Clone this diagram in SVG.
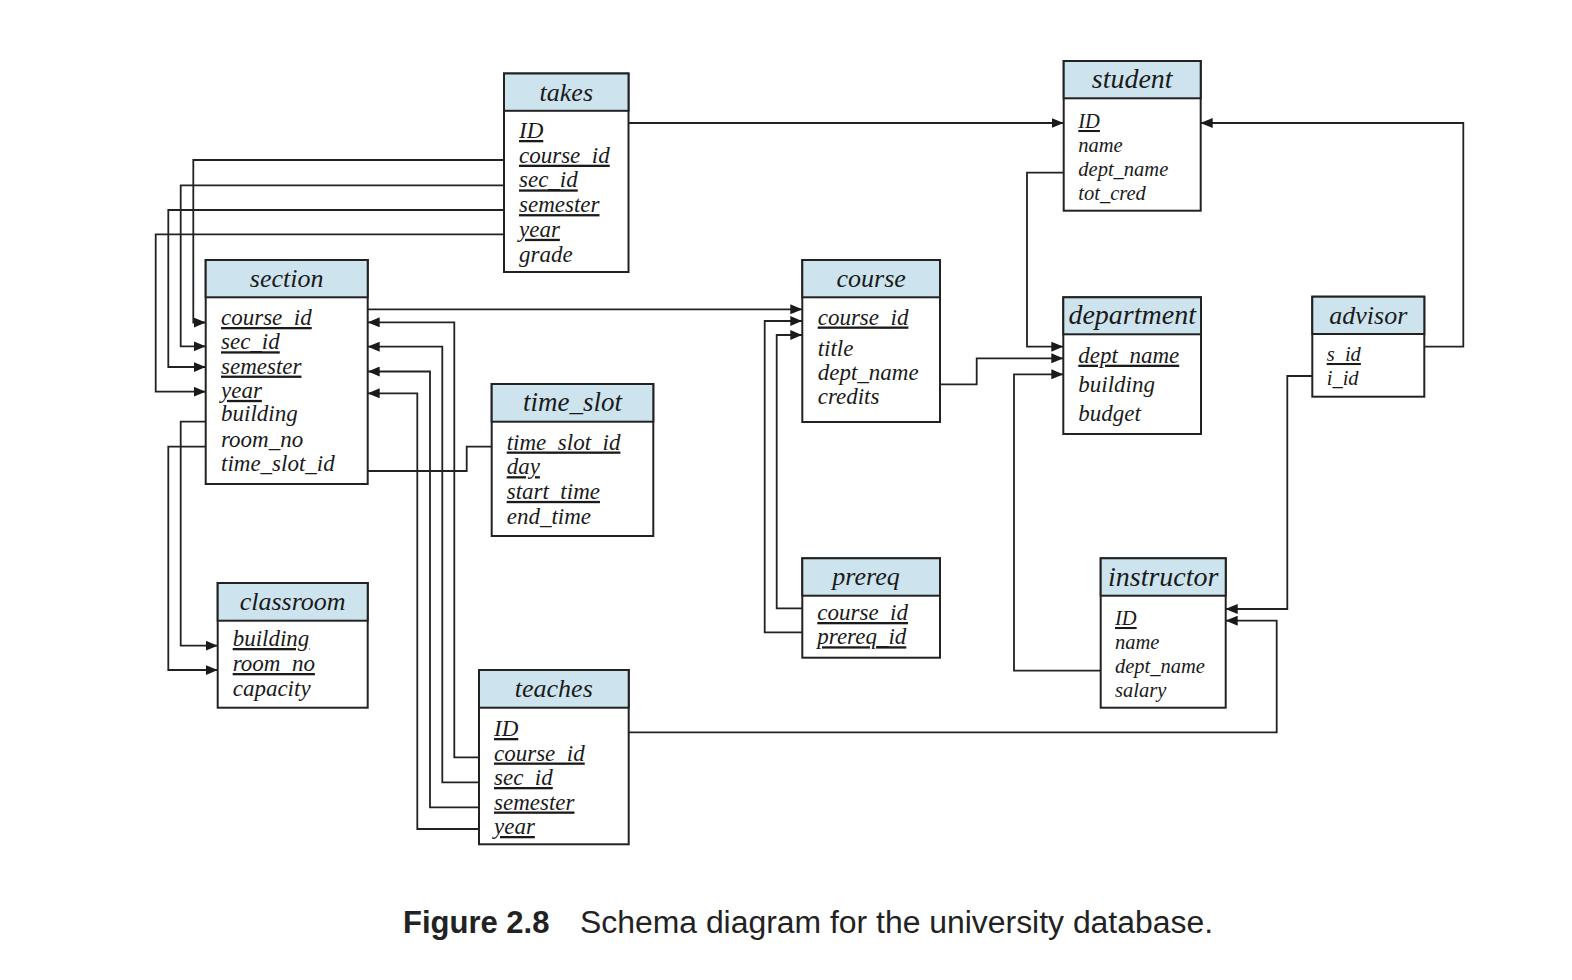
<svg xmlns="http://www.w3.org/2000/svg" width="1572" height="980" viewBox="0 0 1572 980">
<defs>
<style>
.box{fill:#ffffff;stroke:#222;stroke-width:2}
.hd{fill:#cde4ef;stroke:#222;stroke-width:2}
.ht{font-family:"Liberation Serif",serif;font-style:italic;font-size:26px;text-anchor:middle;fill:#1a1a1a}
.f{font-family:"Liberation Serif",serif;font-style:italic;font-size:23px;fill:#1a1a1a}
.s{font-size:20.5px}
.u{text-decoration:underline}
.c{fill:none;stroke:#222;stroke-width:1.8}
.a{marker-end:url(#arr)}
.cap{font-family:"Liberation Sans",Arial,sans-serif;font-size:31px;fill:#222}
</style>
<marker id="arr" viewBox="0 0 12 10" refX="12" refY="5" markerWidth="12" markerHeight="10" markerUnits="userSpaceOnUse" orient="auto">
<path d="M0,0 L12,5 L0,10 z" fill="#1a1a1a"/>
</marker>
</defs>
<rect width="1572" height="980" fill="#ffffff"/>

<g id="connectors">
<path class="c a" d="M504,160 H193.3 V322.5 H205.7"/>
<path class="c a" d="M504,185.3 H180.7 V346.3 H205.7"/>
<path class="c a" d="M504,210 H168.3 V367 H205.7"/>
<path class="c a" d="M504,234.3 H155.7 V391.7 H205.7"/>
<path class="c a" d="M479,757.3 H454.3 V322.3 H367.7"/>
<path class="c a" d="M479,782.3 H442.3 V346.7 H367.7"/>
<path class="c a" d="M479,807.3 H430 V371.5 H367.7"/>
<path class="c a" d="M479,829 H417.3 V393.3 H367.7"/>
<path class="c a" d="M205.7,421.7 H180.7 V645.7 H217.7"/>
<path class="c a" d="M205.7,446.7 H168.3 V670 H217.7"/>
<path class="c" d="M367.7,471 H466.7 V446.7 H491.7"/>
<path class="c a" d="M367.7,309.3 H802.3"/>
<path class="c a" d="M802.3,608.3 H776.7 V335 H802.3"/>
<path class="c a" d="M802.3,632.3 H764.7 V321 H802.3"/>
<path class="c a" d="M628.7,123 H1063.7"/>
<path class="c a" d="M1424.3,346.7 H1463.3 V123 H1200.7"/>
<path class="c a" d="M1063.7,172.7 H1027 V346.7 H1063.3"/>
<path class="c a" d="M940,384.3 H976.7 V358.3 H1063.3"/>
<path class="c a" d="M1100.7,670.7 H1014 V374.3 H1063.3"/>
<path class="c a" d="M1312.3,376 H1287.3 V609 H1225.7"/>
<path class="c a" d="M628.7,732.3 H1276.7 V620.7 H1225.7"/>
</g>

<g id="takes">
<rect class="box" x="504" y="73.5" width="124.5" height="198.5"/>
<rect class="hd" x="504" y="73.5" width="124.5" height="37.3"/>
<text class="ht" x="566.3" y="100.7">takes</text>
<text class="f u" x="519" y="138">ID</text>
<text class="f u" x="519" y="162.7">course_id</text>
<text class="f u" x="519" y="187.4">sec_id</text>
<text class="f u" x="519" y="212.1">semester</text>
<text class="f u" x="519" y="236.8">year</text>
<text class="f" x="519" y="261.5">grade</text>
</g>

<g id="section">
<rect class="box" x="205.7" y="260" width="162" height="224"/>
<rect class="hd" x="205.7" y="260" width="162" height="37.3"/>
<text class="ht" x="286.7" y="286.7">section</text>
<text class="f u" x="221" y="325">course_id</text>
<text class="f u" x="221" y="349.3">sec_id</text>
<text class="f u" x="221" y="373.6">semester</text>
<text class="f u" x="221" y="397.9">year</text>
<text class="f" x="221" y="421">building</text>
<text class="f" x="221" y="446.5">room_no</text>
<text class="f" x="221" y="470.8">time_slot_id</text>
</g>

<g id="student">
<rect class="box" x="1063.7" y="61" width="137" height="149.7"/>
<rect class="hd" x="1063.7" y="61" width="137" height="37.3"/>
<text class="ht" x="1132.2" y="88" style="font-size:28px">student</text>
<text class="f s u" x="1078.3" y="128">ID</text>
<text class="f s" x="1078.3" y="152">name</text>
<text class="f s" x="1078.3" y="176">dept_name</text>
<text class="f s" x="1078.3" y="200">tot_cred</text>
</g>

<g id="course">
<rect class="box" x="802.3" y="260" width="137.7" height="162"/>
<rect class="hd" x="802.3" y="260" width="137.7" height="37.3"/>
<text class="ht" x="871.2" y="286.7">course</text>
<text class="f u" x="817.7" y="324.5">course_id</text>
<text class="f" x="817.7" y="356">title</text>
<text class="f" x="817.7" y="380.3">dept_name</text>
<text class="f" x="817.7" y="404.3">credits</text>
</g>

<g id="department">
<rect class="box" x="1063.3" y="297.3" width="137.7" height="136.7"/>
<rect class="hd" x="1063.3" y="297.3" width="137.7" height="37"/>
<text class="ht" x="1132.2" y="324" style="font-size:28px">department</text>
<text class="f u" x="1078.3" y="362.7">dept_name</text>
<text class="f" x="1078.3" y="391.7">building</text>
<text class="f" x="1078.3" y="420.5">budget</text>
</g>

<g id="advisor">
<rect class="box" x="1312.3" y="296.7" width="112" height="100"/>
<rect class="hd" x="1312.3" y="296.7" width="112" height="37.3"/>
<text class="ht" x="1368.3" y="323.5">advisor</text>
<text class="f s u" x="1326.7" y="361">s_id</text>
<text class="f s" x="1326.7" y="385">i_id</text>
</g>

<g id="time_slot">
<rect class="box" x="491.7" y="384" width="161.6" height="152"/>
<rect class="hd" x="491.7" y="384" width="161.6" height="37.7"/>
<text class="ht" x="572.5" y="411" style="font-size:27px">time_slot</text>
<text class="f u" x="506.7" y="449.5">time_slot_id</text>
<text class="f u" x="506.7" y="474.2">day</text>
<text class="f u" x="506.7" y="498.9">start_time</text>
<text class="f" x="506.7" y="523.6">end_time</text>
</g>

<g id="classroom">
<rect class="box" x="217.7" y="583" width="150" height="124.7"/>
<rect class="hd" x="217.7" y="583" width="150" height="37.7"/>
<text class="ht" x="292.7" y="610">classroom</text>
<text class="f u" x="232.7" y="646">building</text>
<text class="f u" x="232.7" y="671">room_no</text>
<text class="f" x="232.7" y="696">capacity</text>
</g>

<g id="teaches">
<rect class="box" x="479" y="670" width="149.7" height="174.3"/>
<rect class="hd" x="479" y="670" width="149.7" height="37.7"/>
<text class="ht" x="553.8" y="697">teaches</text>
<text class="f u" x="494" y="736">ID</text>
<text class="f u" x="494" y="760.5">course_id</text>
<text class="f u" x="494" y="785">sec_id</text>
<text class="f u" x="494" y="809.5">semester</text>
<text class="f u" x="494" y="834">year</text>
</g>

<g id="prereq">
<rect class="box" x="802.3" y="558.3" width="137.7" height="99.4"/>
<rect class="hd" x="802.3" y="558.3" width="137.7" height="37.4"/>
<text class="ht" x="866" y="585">prereq</text>
<text class="f u" x="817.3" y="620">course_id</text>
<text class="f u" x="817.3" y="644.3">prereq_id</text>
</g>

<g id="instructor">
<rect class="box" x="1100.7" y="558.3" width="125" height="149.4"/>
<rect class="hd" x="1100.7" y="558.3" width="125" height="37.4"/>
<text class="ht" x="1163.2" y="585.5" style="font-size:28px">instructor</text>
<text class="f s u" x="1115" y="625">ID</text>
<text class="f s" x="1115" y="648.7">name</text>
<text class="f s" x="1115" y="672.7">dept_name</text>
<text class="f s" x="1115" y="696.5">salary</text>
</g>

<g id="caption">
<text class="cap" x="403" y="933" style="font-weight:bold">Figure 2.8</text>
<text class="cap" x="580" y="933" textLength="633" lengthAdjust="spacingAndGlyphs">Schema diagram for the university database.</text>
</g>
</svg>
